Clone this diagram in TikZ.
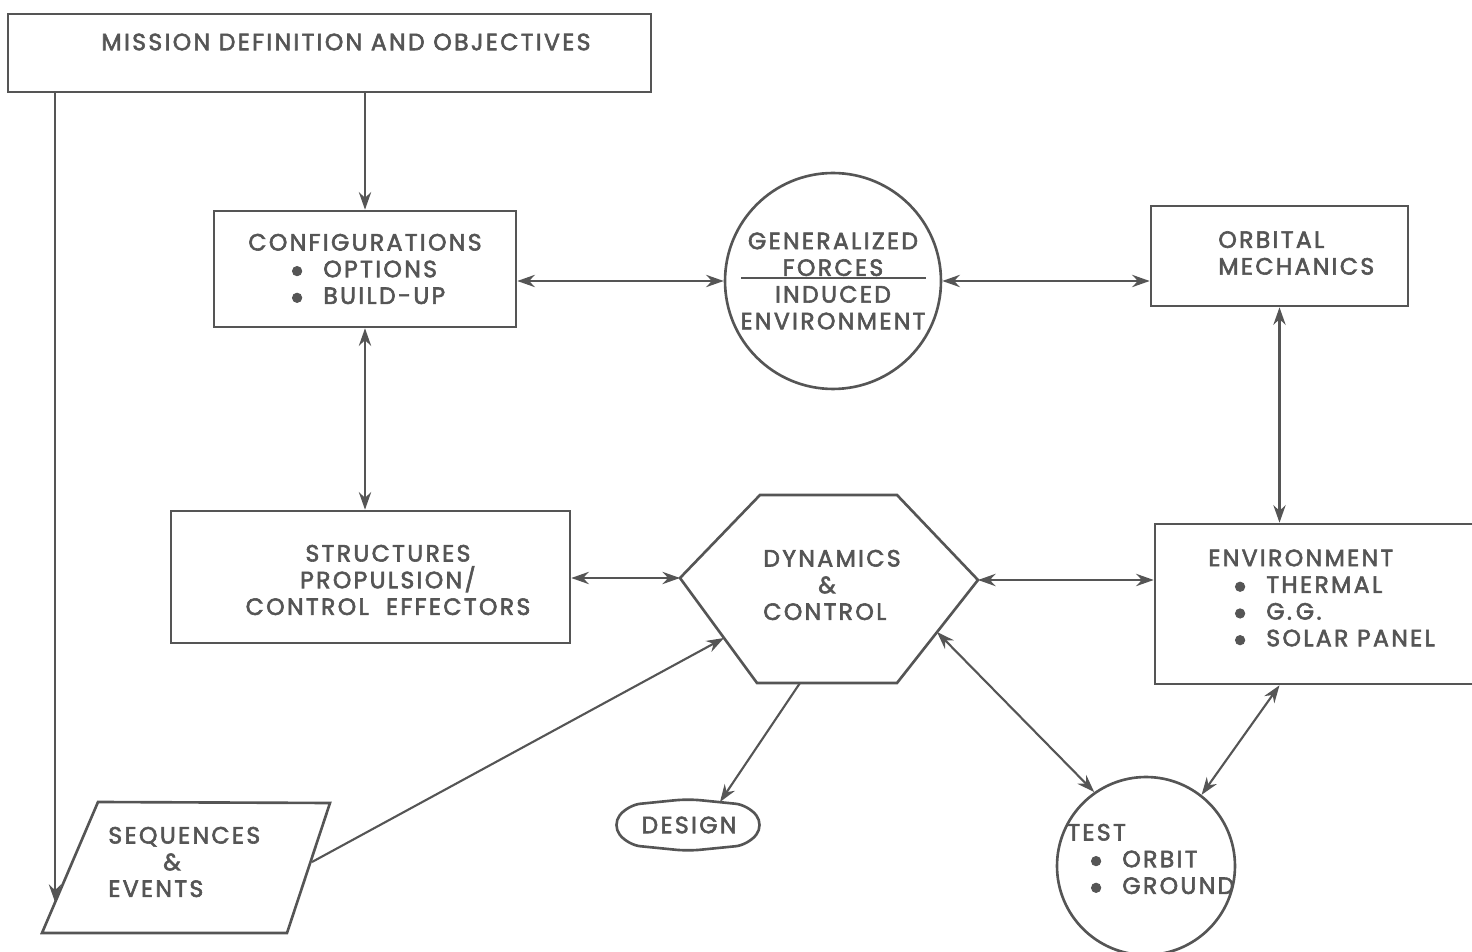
\documentclass[tikz,border=0pt]{standalone}
\usepackage{fontspec}
\setmainfont{Poppins}[LetterSpace=10, FakeBold=2.5]
\usetikzlibrary{arrows.meta}
\definecolor{ink}{HTML}{555555}
\newcommand{\bul}{\makebox[0.68cm][l]{\raisebox{-0.5ex}[0pt][0pt]{\scalebox{1.6}{\textbullet}}}}
\tikzset{
  box/.style={draw=ink, line width=1.5pt, inner sep=0pt},
  disc/.style={draw=ink, line width=1.5pt, circle, inner sep=0pt},
  lbl/.style={text=ink, font=\fontsize{13.4}{15.2}\selectfont, inner sep=0pt},
  link/.style={draw=ink, line width=1.2pt, -{Stealth[length=10pt,width=7pt]}},
  both/.style={link, {Stealth[length=10pt,width=7pt]}-{Stealth[length=10pt,width=7pt]}},
}
\begin{document}
\begin{tikzpicture}[x=0.02cm, y=-0.02cm]
\useasboundingbox (0,0) rectangle (1472,952);
\clip (0,0) rectangle (1472,952);
% top box
\node[box, minimum width=12.86cm, minimum height=1.56cm] (mission) at (329.5,53) {};
\node[lbl] (missiontext) at (346,42) {MISSION DEFINITION AND OBJECTIVES};
% upper row
\node[box, lbl, align=left, minimum width=6.04cm, minimum height=2.32cm] (config) at (365,269)
  {CONFIGURATIONS\\\hspace*{0.82cm}\bul OPTIONS\\\hspace*{0.82cm}\bul BUILD-UP};
\node[disc, lbl, align=center, minimum size=4.32cm] (gen) at (833,281)
  {GENERALIZED\\FORCES\\INDUCED\\ENVIRONMENT};
\draw[ink, line width=0.9pt] (741,278) -- (926,278);
\node[box, minimum width=5.14cm, minimum height=2cm] (orbital) at (1279.5,256) {};
\node[lbl, align=left, anchor=west] (orbitaltext) at (1218,253) {ORBITAL\\MECHANICS};
% middle row
\node[box, minimum width=7.98cm, minimum height=2.64cm] (struct) at (370.5,577) {};
\node[lbl, align=center] (structtext) at (388,580) {STRUCTURES\\PROPULSION/\\CONTROL\ \ EFFECTORS};
\coordinate (hexL) at (680,578);
\coordinate (hexR) at (978,580);
\coordinate (hexB) at (800,683);
\coordinate (hexSW) at (724,638);
\coordinate (hexSE) at (937,632);
\draw[ink, line width=1.5pt] (hexL) -- (760,495) -- (897,495) -- (hexR) -- (897,683) -- (757,683) -- cycle;
\node[lbl, align=left] (dyntext) at (832,585) {DYNAMICS\\\hspace*{1.1cm}\&\\CONTROL};
\node[box, minimum width=6.8cm, minimum height=3.2cm] (env) at (1325,604) {};
\node[lbl, align=left, anchor=west] (envtext) at (1208,598)
  {ENVIRONMENT\\\hspace*{0.48cm}\bul THERMAL\\\hspace*{0.48cm}\bul G.\,G.\\\hspace*{0.48cm}\bul SOLAR PANEL};
% bottom row
\coordinate (seqin) at (55,902);
\coordinate (seqR) at (312,862);
\draw[ink, line width=1.5pt] (98,802) -- (330,803) -- (287,933) -- (42,933) -- cycle;
\node[lbl, align=left, anchor=west] (seqtext) at (108,862) {SEQUENCES\\\hspace*{1.1cm}\&\\EVENTS};
\coordinate (designtop) at (720,802);
\draw[ink, line width=1.5pt, rounded corners=7pt] (612,825) -- (628,805) -- (688,799) -- (748,805)
  -- (764,825) -- (748,845) -- (688,851) -- (628,845) -- cycle;
\node[lbl] (design) at (689,825) {DESIGN};
\node[disc, minimum size=3.56cm] (test) at (1146,866) {};
\node[lbl, align=left, anchor=west] (testtext) at (1067,859)
  {TEST\\\hspace*{0.42cm}\bul ORBIT\\\hspace*{0.42cm}\bul GROUND};
% connectors
\draw[link] (mission.south -| config.north) -- (config.north);
\draw[link] (mission.south -| seqin) -- (seqin);
\draw[both] (gen.west -| config.east) -- (gen.west);
\draw[both] (gen.east) -- (gen.east -| orbital.west);
\draw[both] (config.south) -- (config.south |- struct.north);
\draw[both] (orbital.south) -- (orbital.south |- env.north);
\draw[both] (struct.east |- hexL) -- (hexL);
\draw[both] (hexR) -- (hexR -| env.west);
\draw[link] (seqR) -- (hexSW);
\draw[link] (hexB) -- (designtop);
\draw[both] (hexSE) -- (test.125);
\draw[both] (test.52) -- (env.south -| orbital.south);
\end{tikzpicture}
\end{document}
